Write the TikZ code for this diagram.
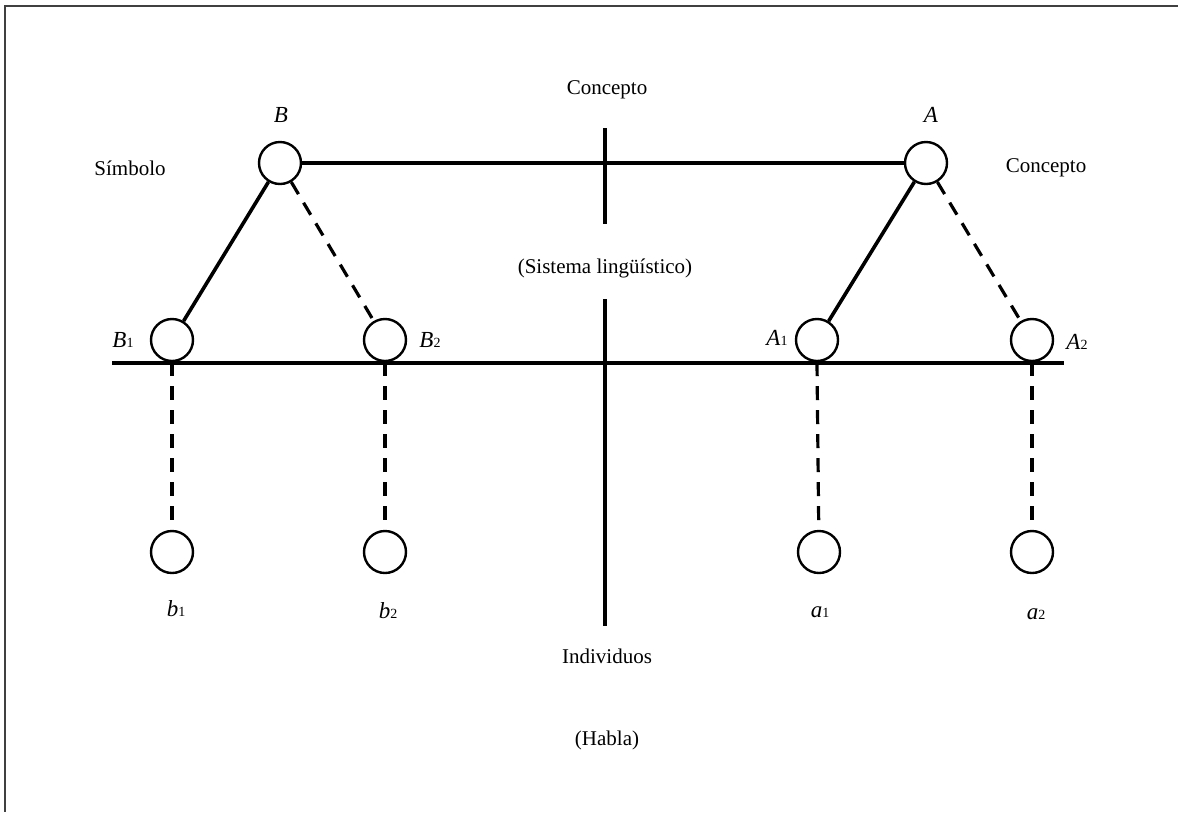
\documentclass[tikz,border=0pt]{standalone}
\usepackage{fontspec}
\setmainfont{Liberation Serif}
\begin{document}
\begin{tikzpicture}[x=1pt,y=-1pt,
  circ/.style={circle,draw,line width=2.4pt,minimum size=42pt,inner sep=0pt},
  lbl/.style={font=\fontsize{21}{24}\selectfont,inner sep=0pt},
  ilbl/.style={font=\fontsize{23}{26}\selectfont\itshape,inner sep=0pt},
  thick line/.style={line width=3.6pt},
  dashline/.style={line width=3.2pt,dash pattern=on 14pt off 10pt}]
\newcommand{\sdig}[1]{{\upshape\fontsize{14}{16}\selectfont #1}}
\useasboundingbox (0,0) rectangle (1178,812);
% frame
\draw[line width=1.5pt,black!75] (1178,6) -- (5,6) -- (5,812);
% circles
\node[circ] (B) at (280,163) {};
\node[circ] (A) at (926,163) {};
\node[circ] (B1) at (172,340) {};
\node[circ] (B2) at (385,340) {};
\node[circ] (A1) at (817,340) {};
\node[circ] (A2) at (1032,340) {};
\node[circ] (b1) at (172,552) {};
\node[circ] (b2) at (385,552) {};
\node[circ] (a1) at (819,552) {};
\node[circ] (a2) at (1032,552) {};
% labels
\node[lbl] (tConc) at (607,90) {Concepto};
\node[lbl] (tSimb) at (130,168) {Símbolo};
\node[lbl] (tConc2) at (1046,168) {Concepto};
\node[lbl] (tSis) at (605,268) {(Sistema lingüístico)};
\node[lbl] (tInd) at (607,656) {Individuos};
\node[lbl] (tHab) at (607,740) {(Habla)};
\node[ilbl] (lB) at (281,115) {B};
\node[ilbl] (lA) at (931,115) {A};
\node[ilbl] (lB1) at (123,340) {B\sdig{1}};
\node[ilbl] (lB2) at (430,340) {B\sdig{2}};
\node[ilbl] (lA1) at (777,338) {A\sdig{1}};
\node[ilbl] (lA2) at (1077,342) {A\sdig{2}};
\node[ilbl] (lb1) at (176,609) {b\sdig{1}};
\node[ilbl] (lb2) at (388,611) {b\sdig{2}};
\node[ilbl] (la1) at (820,612) {a\sdig{1}};
\node[ilbl] (la2) at (1036,614) {a\sdig{2}};
% coordinates for axes
\coordinate (vt1) at (605,128);
\coordinate (vt2) at (605,224);
\coordinate (vb1) at (605,299);
\coordinate (vb2) at (605,626);
\coordinate (hL) at (112,363);
\coordinate (hR) at (1064,363);
% lines
\draw[thick line] (B) -- (A);
\draw[thick line] (vt1) -- (vt2);
\draw[thick line] (vb1) -- (vb2);
\draw[thick line] (hL) -- (hR);
\draw[thick line] (B) -- (B1);
\draw[thick line] (A) -- (A1);
\draw[dashline] (B) -- (B2);
\draw[dashline] (A) -- (A2);
\draw[dashline] (B1.south) -- (b1);
\draw[dashline] (B2.south) -- (b2);
\draw[dashline] (A1.south) -- (a1);
\draw[dashline] (A2.south) -- (a2);
\end{tikzpicture}
\end{document}
